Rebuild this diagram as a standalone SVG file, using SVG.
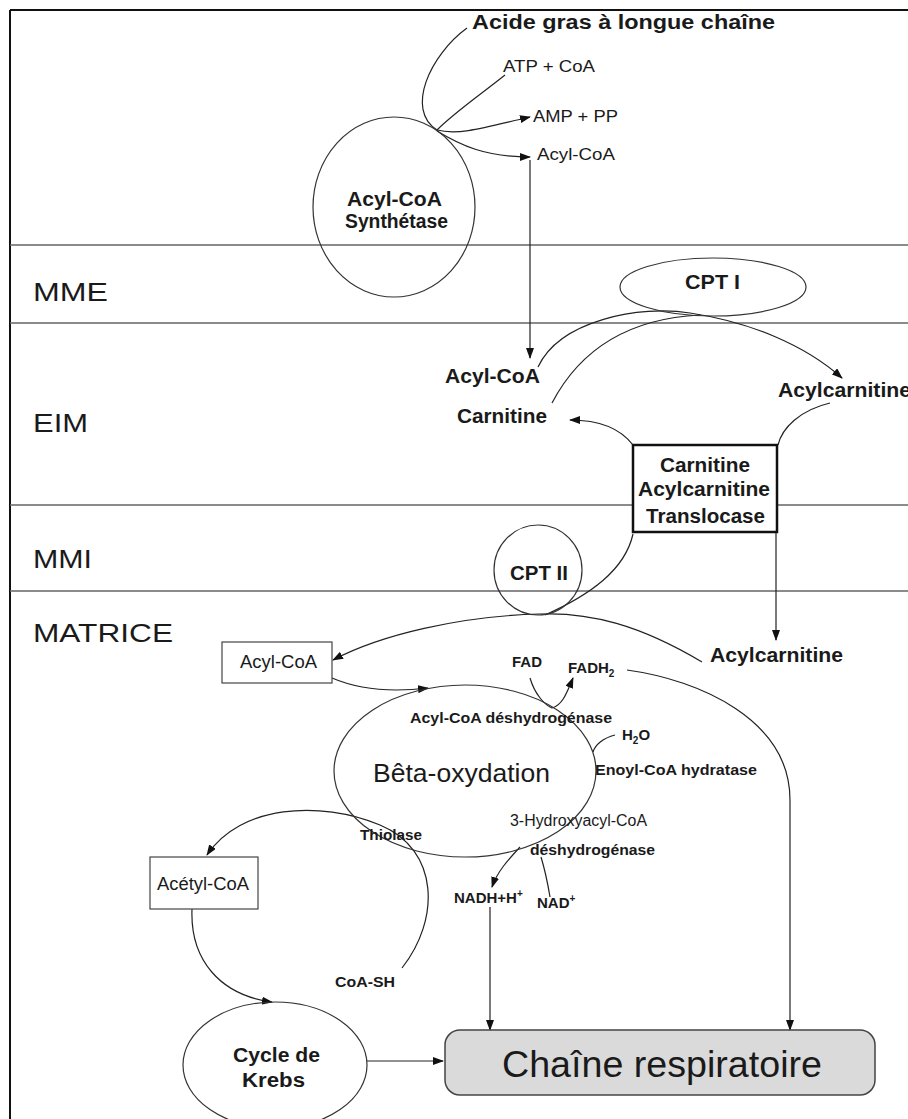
<svg xmlns="http://www.w3.org/2000/svg" width="908" height="1119" viewBox="0 0 908 1119">
<defs>
<marker id="ah" markerWidth="11" markerHeight="8" refX="10" refY="4" orient="auto" markerUnits="userSpaceOnUse"><path d="M0,0 L11,4 L0,8 z" fill="#111"/></marker>
<style>
.lane{stroke:#666;stroke-width:1.5;fill:none}
.c{fill:none;stroke:#222;stroke-width:1.2}
.a{marker-end:url(#ah)}
.n{fill:none;stroke:#333;stroke-width:1.2}
text{font-family:"Liberation Sans",Arial,sans-serif;fill:#1a1a1a;lengthAdjust:spacingAndGlyphs}
.b{font-weight:bold}
.z{font-size:26px}
.L{font-size:20px}
.s{font-size:15px}
.m{font-size:17px}
</style>
</defs>
<rect width="908" height="1119" fill="#fff"/>
<g id="frame">
<path d="M10,10 H908" stroke="#111" stroke-width="2"/>
<path d="M10,10 V1119" stroke="#111" stroke-width="2"/>
<path class="lane" d="M10,245 H908 M10,323 H908 M10,505 H908 M10,591 H908"/>
<text class="z" x="33" y="301" textLength="75" lengthAdjust="spacingAndGlyphs">MME</text>
<text class="z" x="33" y="432" textLength="55" lengthAdjust="spacingAndGlyphs">EIM</text>
<text class="z" x="33" y="568" textLength="59" lengthAdjust="spacingAndGlyphs">MMI</text>
<text class="z" x="33" y="642" textLength="140" lengthAdjust="spacingAndGlyphs">MATRICE</text>
</g>
<g id="connectors">
<path class="c" d="M467,28 C430,55 405,110 437,130"/>
<path class="c" d="M505,75 C480,95 455,112 437,130"/>
<path class="c a" d="M437,130 C460,136 490,126 530,117"/>
<path class="c a" d="M437,131 C460,145 485,157 530,157"/>
<path class="c a" d="M530,160 V358"/>
<path class="c a" d="M538,367 C560,320 640,305 690,313 C750,322 805,345 842,378"/>
<path class="c" d="M552,403 C585,340 640,318 700,315"/>
<path class="c a" d="M633,445 C620,428 600,420 570,420"/>
<path class="c" d="M830,403 C800,410 782,428 778,445"/>
<path class="c a" d="M776,532 V640"/>
<path class="c" d="M633,534 C625,570 590,595 545,615"/>
<path class="c a" d="M702,662 C640,625 590,612 540,614 C460,616 380,635 333,660"/>
<path class="c a" d="M332,678 C360,690 395,692 428,688"/>
<path class="c a" d="M530,678 C535,695 545,705 552,708 C562,705 566,695 573,678"/>
<path class="c a" d="M627,670 C700,680 790,720 790,800 V1030"/>
<path class="c" d="M615,735 C603,738 595,745 593,752"/>
<path class="c a" d="M520,847 C508,860 497,872 492,887"/>
<path class="c" d="M541,857 C545,870 548,885 550,897"/>
<path class="c a" d="M490,907 V1030"/>
<path class="c a" d="M402,968 C440,920 440,850 380,825 C320,800 240,805 207,855"/>
<path class="c a" d="M192,909 C190,960 220,995 272,1002"/>
<path class="c a" d="M367,1061 H443"/>
</g>
<g id="top-labels">
<text class="b L" x="472" y="29" textLength="303" lengthAdjust="spacingAndGlyphs">Acide gras à longue chaîne</text>
<text class="m" x="503" y="72" textLength="92" lengthAdjust="spacingAndGlyphs">ATP + CoA</text>
<text class="m" x="533" y="122" textLength="85" lengthAdjust="spacingAndGlyphs">AMP + PP</text>
<text class="m" x="537" y="160" textLength="78" lengthAdjust="spacingAndGlyphs">Acyl-CoA</text>
</g>
<g id="synthetase">
<ellipse class="n" cx="394" cy="207" rx="81" ry="90"/>
<text class="b L" x="347" y="206" textLength="95" lengthAdjust="spacingAndGlyphs">Acyl-CoA</text>
<text class="b L" x="345" y="228" textLength="103" lengthAdjust="spacingAndGlyphs">Synthétase</text>
</g>
<g id="cpt1">
<ellipse class="n" cx="713" cy="287" rx="93" ry="29"/>
<text class="b L" x="685" y="289" textLength="55" lengthAdjust="spacingAndGlyphs">CPT I</text>
</g>
<g id="eim-labels">
<text class="b L" x="445" y="383" textLength="95" lengthAdjust="spacingAndGlyphs">Acyl-CoA</text>
<text class="b L" x="457" y="423" textLength="90" lengthAdjust="spacingAndGlyphs">Carnitine</text>
<text class="b L" x="778" y="397" textLength="133" lengthAdjust="spacingAndGlyphs">Acylcarnitine</text>
</g>
<g id="translocase">
<rect x="633" y="445" width="144" height="87" fill="#fff" stroke="#111" stroke-width="2.5"/>
<text class="b L" x="660" y="472" textLength="90" lengthAdjust="spacingAndGlyphs">Carnitine</text>
<text class="b L" x="638" y="496" textLength="132" lengthAdjust="spacingAndGlyphs">Acylcarnitine</text>
<text class="b L" x="646" y="523" textLength="119" lengthAdjust="spacingAndGlyphs">Translocase</text>
</g>
<g id="cpt2">
<ellipse class="n" cx="538" cy="570" rx="44" ry="45"/>
<text class="b L" x="510" y="580" textLength="58" lengthAdjust="spacingAndGlyphs">CPT II</text>
</g>
<g id="acylcarnitine-matrice">
<text class="b L" x="710" y="662" textLength="133" lengthAdjust="spacingAndGlyphs">Acylcarnitine</text>
</g>
<g id="acylcoa-box">
<rect x="222" y="642" width="110" height="41" fill="#fff" stroke="#444" stroke-width="1.2"/>
<text x="240" y="668" font-size="18" textLength="77" lengthAdjust="spacingAndGlyphs">Acyl-CoA</text>
</g>
<g id="beta-oxydation">
<ellipse class="n" cx="465" cy="771" rx="131" ry="86"/>
<text x="373" y="782" font-size="26" textLength="177" lengthAdjust="spacingAndGlyphs">Bêta-oxydation</text>
</g>
<g id="enzymes">
<text class="b s" x="512" y="667" textLength="30" lengthAdjust="spacingAndGlyphs">FAD</text>
<text class="b s" x="568" y="673">FADH<tspan font-size="10" dy="4">2</tspan></text>
<text class="b s" x="410" y="723" textLength="202" lengthAdjust="spacingAndGlyphs">Acyl-CoA déshydrogénase</text>
<text class="b s" x="622" y="740">H<tspan font-size="10" dy="4">2</tspan><tspan dy="-4">O</tspan></text>
<text class="b s" x="595" y="775" textLength="162" lengthAdjust="spacingAndGlyphs">Enoyl-CoA hydratase</text>
<text x="510" y="826" font-size="16" fill="#333" textLength="137" lengthAdjust="spacingAndGlyphs">3-Hydroxyacyl-CoA</text>
<text class="b s" x="530" y="855" textLength="125" lengthAdjust="spacingAndGlyphs">déshydrogénase</text>
<text class="b s" x="360" y="840" textLength="62" lengthAdjust="spacingAndGlyphs">Thiolase</text>
<text class="b s" x="454" y="903">NADH+H<tspan font-size="10" dy="-6">+</tspan></text>
<text class="b s" x="537" y="908">NAD<tspan font-size="10" dy="-6">+</tspan></text>
<text class="b s" x="335" y="987" textLength="60" lengthAdjust="spacingAndGlyphs">CoA-SH</text>
</g>
<g id="acetylcoa-box">
<rect x="150" y="857" width="108" height="52" fill="#fff" stroke="#444" stroke-width="1.2"/>
<text x="157" y="890" font-size="18" textLength="92" lengthAdjust="spacingAndGlyphs">Acétyl-CoA</text>
</g>
<g id="krebs">
<ellipse class="n" cx="275" cy="1065" rx="92" ry="63"/>
<text class="b L" x="233" y="1062" textLength="87" lengthAdjust="spacingAndGlyphs">Cycle de</text>
<text class="b L" x="242" y="1087" textLength="63" lengthAdjust="spacingAndGlyphs">Krebs</text>
</g>
<g id="chaine">
<rect x="445" y="1030" width="430" height="65" rx="15" fill="#dadada" stroke="#444" stroke-width="1.5"/>
<text x="502" y="1077" font-size="37" textLength="320" lengthAdjust="spacingAndGlyphs">Chaîne respiratoire</text>
</g>
</svg>
